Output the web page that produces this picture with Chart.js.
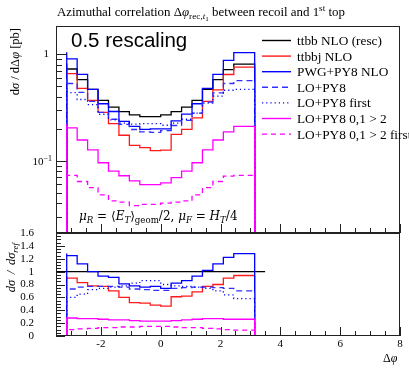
<!DOCTYPE html>
<html>
<head>
<meta charset="utf-8">
<script src="https://cdn.jsdelivr.net/npm/chart.js@4.4.0/dist/chart.umd.min.js"></script>
<style>
    html, body { margin: 0; padding: 0; background: #fff; }
    #wrap { position: relative; width: 409px; height: 368px; }
    canvas { position: absolute; left: 0; top: 0; }
</style>
</head>
<body>
<div id="wrap">
    <canvas id="upper" width="409" height="368"></canvas>
    <canvas id="lower" width="409" height="368"></canvas>
</div>
<script>
// 18 bins in delta phi, from -pi to pi
const nBins = 18;
const binWidth = 2 * Math.PI / nBins;
const binEdges = [];
for (let k = 0; k <= nBins; k++) binEdges.push(-Math.PI + k * binWidth);

// upper panel: d sigma / d delta phi [pb]
const ttbbResc     = [0.82, 0.73, 0.58, 0.47, 0.37, 0.32, 0.29, 0.27, 0.26, 0.26, 0.27, 0.29, 0.32, 0.37, 0.47, 0.58, 0.72, 0.81];
const ttbbj        = [0.76, 0.66, 0.48, 0.37, 0.285, 0.224, 0.174, 0.140, 0.133, 0.125, 0.126, 0.177, 0.198, 0.253, 0.362, 0.464, 0.648, 0.761];
const pwgPy8       = [1.05, 0.91, 0.65, 0.47, 0.344, 0.291, 0.235, 0.211, 0.198, 0.200, 0.200, 0.238, 0.275, 0.344, 0.479, 0.65, 0.88, 1.04];
const loPy8        = [0.59, 0.533, 0.441, 0.362, 0.285, 0.246, 0.220, 0.197, 0.187, 0.185, 0.192, 0.215, 0.240, 0.281, 0.357, 0.435, 0.533, 0.567];
const loPy8First   = [0.484, 0.438, 0.377, 0.338, 0.274, 0.243, 0.226, 0.221, 0.224, 0.224, 0.216, 0.226, 0.246, 0.281, 0.348, 0.406, 0.461, 0.470];
const loPy8Gt2     = [0.221, 0.204, 0.157, 0.127, 0.096, 0.080, 0.0725, 0.0648, 0.0598, 0.0598, 0.0621, 0.0696, 0.080, 0.096, 0.127, 0.157, 0.187, 0.211];
const loPy8Gt2First = [0.074, 0.073, 0.064, 0.056, 0.048, 0.042, 0.041, 0.038, 0.039, 0.039, 0.040, 0.041, 0.042, 0.048, 0.056, 0.064, 0.072, 0.073];

// lower panel: ratio to ttbb NLO (resc)
const ratioRef        = [1, 1, 1, 1, 1, 1, 1, 1, 1, 1, 1, 1, 1, 1, 1, 1, 1, 1, 1, 1];  // one extra bin each side
const ratioTtbbj      = [0.93, 0.90, 0.83, 0.78, 0.77, 0.70, 0.60, 0.52, 0.51, 0.48, 0.465, 0.61, 0.62, 0.685, 0.77, 0.80, 0.90, 0.94];
const ratioPwg        = [1.28, 1.25, 1.12, 1.0, 0.93, 0.91, 0.81, 0.78, 0.76, 0.77, 0.74, 0.82, 0.86, 0.93, 1.02, 1.12, 1.22, 1.28];
const ratioLo         = [0.72, 0.73, 0.76, 0.77, 0.77, 0.77, 0.76, 0.73, 0.72, 0.71, 0.71, 0.74, 0.75, 0.76, 0.76, 0.75, 0.74, 0.70];
const ratioLoFirst    = [0.59, 0.60, 0.65, 0.72, 0.74, 0.76, 0.78, 0.82, 0.86, 0.86, 0.80, 0.78, 0.77, 0.76, 0.74, 0.70, 0.64, 0.58];
const ratioGt2        = [0.27, 0.28, 0.27, 0.27, 0.26, 0.25, 0.25, 0.24, 0.23, 0.23, 0.23, 0.24, 0.25, 0.26, 0.27, 0.27, 0.26, 0.26];
const ratioGt2First   = [0.09, 0.10, 0.11, 0.12, 0.13, 0.13, 0.14, 0.14, 0.15, 0.15, 0.15, 0.14, 0.13, 0.13, 0.12, 0.11, 0.10, 0.09];

const xTicks = [-2, 0, 2, 4, 6, 8];
const ratioTicks = [0, 0.2, 0.4, 0.6, 0.8, 1, 1.2, 1.4, 1.6];

const SERIF = '"Liberation Serif", serif';
const WIDE_SERIF = '"DejaVu Serif", serif';

const series = [
    { label: 'ttbb NLO (resc)', color: '#000000', dash: [], vals: ttbbResc, ratio: null, order: 7 },
    { label: 'ttbbj NLO', color: '#ff1a1a', dash: [], vals: ttbbj, ratio: ratioTtbbj, order: 6 },
    { label: 'PWG+PY8 NLO', color: '#0000ff', dash: [], vals: pwgPy8, ratio: ratioPwg, order: 5 },
    { label: 'LO+PY8', color: '#3030ff', dash: [6, 4], vals: loPy8, ratio: ratioLo, order: 4 },
    { label: 'LO+PY8 first', color: '#0000ff', dash: [1.2, 3], vals: loPy8First, ratio: ratioLoFirst, order: 3 },
    { label: 'LO+PY8 0,1 > 2', color: '#ff00ff', dash: [], vals: loPy8Gt2, ratio: ratioGt2, order: 1 },
    { label: 'LO+PY8 0,1 > 2 first', color: '#ff00ff', dash: [5, 4], vals: loPy8Gt2First, ratio: ratioGt2First, order: 2 }
];

// histogram outline, dropping to floor at both ends
function steps(vals, edges, floor) {
    const n = vals.length;
    const pts = [{ x: edges[0], y: floor }];
    vals.forEach((v, i) => pts.push({ x: edges[i], y: v }));
    pts.push({ x: edges[n], y: vals[n - 1] });
    pts.push({ x: edges[n], y: floor });
    return pts;
}

function lineDs(s, data) {
    return {
        label: s.label, data: data, borderColor: s.color, borderDash: s.dash,
        borderWidth: 1.3, pointRadius: 0, stepped: 'after', fill: false, order: s.order
    };
}

// draws mixed roman/italic/sub/sup text, returns width
function rich(ctx, parts, x, y, size, draw = true, family = SERIF) {
    let cx = x;
    for (const [t, st] of parts) {
        let fs = size, dy = 0;
        const it = st.indexOf('i') >= 0 && st !== 'r' ? 'italic ' : '';
        if (st.startsWith('sub')) { fs = size * 0.72; dy = size * 0.22; }
        if (st.startsWith('sup')) { fs = size * 0.72; dy = -size * 0.38; }
        if (st === 'ss') { fs = size * 0.55; dy = size * 0.38; }
        ctx.font = it + fs + 'px ' + family;
        if (draw) ctx.fillText(t, cx, y + dy);
        cx += ctx.measureText(t).width;
    }
    return cx - x;
}

function drawXTicks(ctx, a, x) {
    ctx.beginPath();
    for (let v = -3.5; v <= 8.001; v += 0.5) {
        const px = Math.round(x.getPixelForValue(v)) + 0.5;
        const major = xTicks.includes(Math.round(v * 10) / 10);
        ctx.moveTo(px, a.bottom);
        ctx.lineTo(px, a.bottom - (major ? 9 : 5));
    }
    ctx.stroke();
}

const upperDecor = {
    id: 'upperDecor',
    afterDraw(chart) {
        const { ctx, chartArea: a, scales: { x, y } } = chart;
        ctx.save();
        ctx.strokeStyle = '#222';
        ctx.lineWidth = 1;
        ctx.strokeRect(a.left + 0.5, a.top + 0.5, a.right - a.left - 1, a.bottom - a.top - 1);

        // log ticks on left edge
        ctx.beginPath();
        [0.01, 0.1, 1].forEach(d => {
            for (let m = 1; m <= 9; m++) {
                const v = d * m;
                if (v < y.min || v > y.max) continue;
                const py = Math.round(y.getPixelForValue(v)) + 0.5;
                ctx.moveTo(a.left, py);
                ctx.lineTo(a.left + (m === 1 ? 11 : 6), py);
            }
        });
        ctx.stroke();
        drawXTicks(ctx, a, x);

        ctx.fillStyle = '#000';
        ctx.textBaseline = 'middle';
        ctx.textAlign = 'right';
        ctx.font = '11px ' + SERIF;
        ctx.fillText('1', 49, y.getPixelForValue(1));
        ctx.textAlign = 'left';
        const py1 = y.getPixelForValue(0.1);
        ctx.textBaseline = 'alphabetic';
        const w = rich(ctx, [['10', 'r'], ['\u22121', 'sup']], 0, 0, 11, false);
        rich(ctx, [['10', 'r'], ['\u22121', 'sup']], 52 - w, py1 + 4, 11);

        // title
        rich(ctx, [['Azimuthal correlation \u0394', 'r'], ['\u03c6', 'i'], ['rec,', 'sub'], ['t', 'subi'], ['1', 'ss'],
                   [' between recoil and 1', 'r'], ['st', 'sup'], [' top', 'r']], 57, 16, 12.9);

        // big label
        ctx.font = '20.5px "Liberation Sans", Arimo, sans-serif';
        ctx.fillText('0.5 rescaling', 71, 47);

        // scale annotation
        rich(ctx, [['\u03bc', 'i'], ['R', 'subi'], [' = \u27e8', 'r'], ['E', 'i'], ['T', 'subi'], ['\u27e9', 'r'], ['geom', 'sub'],
                   ['/2, ', 'r'], ['\u03bc', 'i'], ['F', 'subi'], [' = ', 'r'], ['H', 'i'], ['T', 'subi'], ['/4', 'r']],
             79, 220, 12, true, WIDE_SERIF);

        // legend
        series.forEach((s, i) => {
            const ly = 40.5 + i * 15.6;
            ctx.beginPath();
            ctx.strokeStyle = s.color;
            ctx.lineWidth = 1.4;
            ctx.setLineDash(s.dash);
            ctx.moveTo(262, ly);
            ctx.lineTo(291, ly);
            ctx.stroke();
            ctx.setLineDash([]);
            ctx.fillStyle = '#000';
            ctx.font = '13.3px ' + SERIF;
            ctx.fillText(s.label, 297, ly + 4.5);
        });

        // y title
        ctx.translate(19, 28);
        ctx.rotate(-Math.PI / 2);
        const yl = [['d', 'r'], ['\u03c3', 'i'], [' / d\u0394', 'r'], ['\u03c6', 'i'], [' [pb]', 'r']];
        const wl = rich(ctx, yl, 0, 0, 12.5, false);
        rich(ctx, yl, -wl, 0, 12.5);
        ctx.restore();
    }
};

const lowerDecor = {
    id: 'lowerDecor',
    afterDraw(chart) {
        const { ctx, chartArea: a, scales: { x, y } } = chart;
        ctx.save();
        ctx.strokeStyle = '#222';
        ctx.lineWidth = 1;
        ctx.strokeRect(a.left + 0.5, a.top + 0.5, a.right - a.left - 1, a.bottom - a.top - 1);

        ctx.beginPath();
        for (let v = 0; v <= 1.6001; v += 0.05) {
            const py = Math.round(y.getPixelForValue(v)) + 0.5;
            const major = Math.abs(v * 5 - Math.round(v * 5)) < 1e-6;
            ctx.moveTo(a.left, py);
            ctx.lineTo(a.left + (major ? 9 : 5), py);
        }
        ctx.stroke();
        drawXTicks(ctx, a, x);

        ctx.fillStyle = '#000';
        ctx.font = '11px ' + SERIF;
        ctx.textAlign = 'right';
        ctx.textBaseline = 'middle';
        ratioTicks.forEach(t => ctx.fillText(String(t), 34, y.getPixelForValue(t)));

        ctx.textAlign = 'center';
        ctx.textBaseline = 'alphabetic';
        xTicks.forEach(t => ctx.fillText(t < 0 ? '-' + Math.abs(t) : String(t), x.getPixelForValue(t), 347));

        ctx.textAlign = 'left';
        rich(ctx, [['\u0394', 'r'], ['\u03c6', 'i']], 383, 362, 12);

        ctx.translate(15, 243);
        ctx.rotate(-Math.PI / 2);
        const yl = [['d\u03c3 \u2009/\u2009 d\u03c3', 'i'], ['ref', 'subi']];
        const wl = rich(ctx, yl, 0, 0, 12.5, false);
        rich(ctx, yl, -wl, 0, 12.5);
        ctx.restore();
    }
};

const xScale = { type: 'linear', min: -3.5, max: 8, display: false };
const commonOpts = {
    responsive: false,
    animation: false,
    devicePixelRatio: 1,
    plugins: { legend: { display: false }, tooltip: { enabled: false } },
    events: []
};

new Chart(document.getElementById('upper').getContext('2d'), {
    type: 'line',
    data: { datasets: series.map(s => lineDs(s, steps(s.vals, binEdges, 1e-3))) },
    options: Object.assign({}, commonOpts, {
        layout: { padding: { left: 56, right: 9, top: 26, bottom: 135 } },
        scales: { x: xScale, y: { type: 'logarithmic', min: 0.021, max: 1.85, display: false } }
    }),
    plugins: [upperDecor]
});

const refEdges = [binEdges[0] - binWidth].concat(binEdges, [binEdges[nBins] + binWidth]);
const lowerSets = series.map(s => {
    if (!s.ratio) {
        const pts = ratioRef.map((v, i) => ({ x: refEdges[i], y: v }));
        pts.push({ x: refEdges[refEdges.length - 1], y: ratioRef[ratioRef.length - 1] });
        return lineDs(s, pts);
    }
    return lineDs(s, steps(s.ratio, binEdges, 0));
});

new Chart(document.getElementById('lower').getContext('2d'), {
    type: 'line',
    data: { datasets: lowerSets },
    options: Object.assign({}, commonOpts, {
        layout: { padding: { left: 56, right: 9, top: 233, bottom: 32 } },
        scales: { x: xScale, y: { type: 'linear', min: 0, max: 1.6, display: false } }
    }),
    plugins: [lowerDecor]
});
</script>
</body>
</html>
